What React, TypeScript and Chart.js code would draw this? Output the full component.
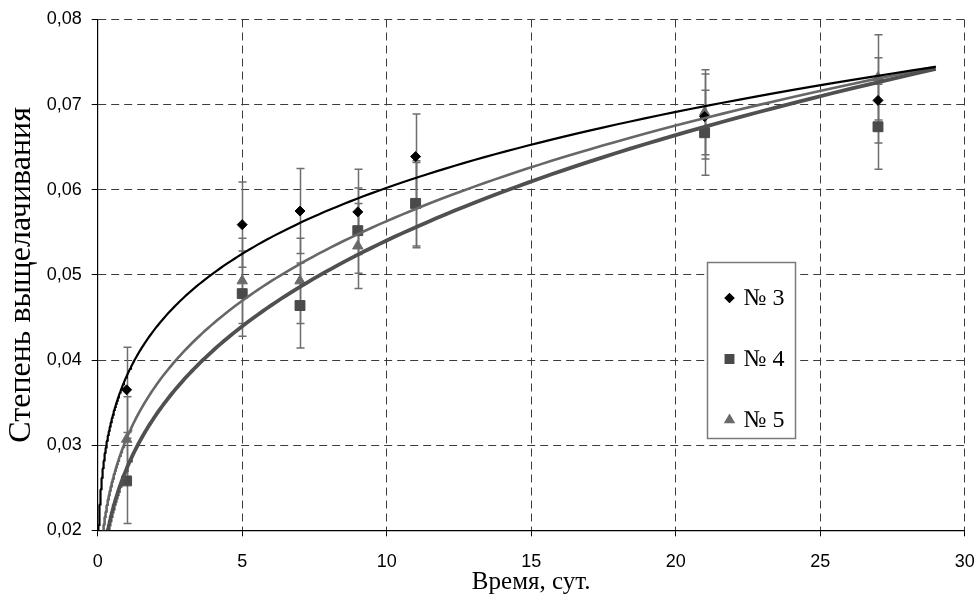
import React, { useEffect, useRef } from "react";
import { Chart, registerables } from "chart.js";
import { drawPoint } from "chart.js/helpers";

Chart.register(...registerables);

// ---- data ----
const days = [1, 5, 7, 9, 11, 21, 27];
const sample3 = [0.0365, 0.0559, 0.0575, 0.0574, 0.0639, 0.0686, 0.0705];
const sample4 = [0.0258, 0.0478, 0.0464, 0.0552, 0.0584, 0.0667, 0.0674];
const sample5 = [0.0307, 0.0493, 0.0493, 0.0534, 0.0582, 0.0691, 0.0732];
const errors3 = [0.005, 0.005, 0.005, 0.005, 0.005, 0.005, 0.005];
const errors4 = [0.005, 0.005, 0.005, 0.005, 0.005, 0.005, 0.005];
const errors5 = [0.005, 0.005, 0.005, 0.005, 0.005, 0.005, 0.005];
const seriesLabels = ["№ 3", "№ 4", "№ 5"];
const xTicks = [0, 5, 10, 15, 20, 25, 30];
const yTicks = [0.02, 0.03, 0.04, 0.05, 0.06, 0.07, 0.08];
const trendStart = 0.01;
const trendEnd = 29;
const xTitle = "Время, сут.";
const yTitle = "Степень выщелачивания";

// power trend line (least squares on ln-ln, like a spreadsheet power trendline)
function powerFit(xs: number[], ys: number[]) {
  const lx = xs.map(Math.log);
  const ly = ys.map(Math.log);
  const n = xs.length;
  const mx = lx.reduce((a, b) => a + b, 0) / n;
  const my = ly.reduce((a, b) => a + b, 0) / n;
  let sxy = 0;
  let sxx = 0;
  for (let i = 0; i < n; i++) {
    sxy += (lx[i] - mx) * (ly[i] - my);
    sxx += (lx[i] - mx) * (lx[i] - mx);
  }
  const p = sxy / sxx;
  const c = Math.exp(my - p * mx);
  return { c, p };
}

function trendPoints(xs: number[], ys: number[]) {
  const { c, p } = powerFit(xs, ys);
  const pts: { x: number; y: number }[] = [];
  const N = 300;
  for (let i = 0; i < N; i++) {
    const x = trendStart * Math.pow(trendEnd / trendStart, i / (N - 1));
    pts.push({ x, y: c * Math.pow(x, p) });
  }
  return pts;
}

const toPoints = (ys: number[]) => days.map((d, i) => ({ x: d, y: ys[i] }));

const styles = [
  { marker: "rectRot", radius: 5, color: "#000000", line: "#000000", lw: 2.2 },
  { marker: "rect", radius: 7, color: "#4a4a4a", line: "#505050", lw: 3.8 },
  { marker: "triangle", radius: 6, color: "#6a6a6a", line: "#676767", lw: 2.6 },
];

const errorBarPlugin = {
  id: "errorBars",
  beforeDatasetsDraw(chart: any) {
    const { ctx } = chart;
    const xs = chart.scales.x;
    const ys = chart.scales.y;
    chart.data.datasets.forEach((ds: any) => {
      if (!ds.errors) return;
      ctx.save();
      ctx.strokeStyle = "#6e6e6e";
      ctx.lineWidth = 1.5;
      ds.data.forEach((pt: any, j: number) => {
        const px = Math.round(xs.getPixelForValue(pt.x)) + 0.5;
        const top = ys.getPixelForValue(pt.y + ds.errors[j]);
        const bot = ys.getPixelForValue(pt.y - ds.errors[j]);
        ctx.beginPath();
        ctx.moveTo(px, top);
        ctx.lineTo(px, bot);
        ctx.moveTo(px - 4, top);
        ctx.lineTo(px + 4, top);
        ctx.moveTo(px - 4, bot);
        ctx.lineTo(px + 4, bot);
        ctx.stroke();
      });
      ctx.restore();
    });
  },
};

const legendPlugin = {
  id: "boxLegend",
  afterDraw(chart: any) {
    const { ctx } = chart;
    const left = 707.5;
    const top = 262.5;
    const w = 88;
    const h = 176;
    ctx.save();
    ctx.fillStyle = "#ffffff";
    ctx.fillRect(left, top, w, h);
    ctx.strokeStyle = "#7a7a7a";
    ctx.lineWidth = 1.5;
    ctx.strokeRect(left, top, w, h);
    const rows = [298, 359, 420];
    ctx.font = '24px "Liberation Serif"';
    ctx.textBaseline = "middle";
    ctx.textAlign = "left";
    seriesLabels.forEach((lab, i) => {
      const st = styles[i];
      ctx.fillStyle = st.color;
      ctx.strokeStyle = st.color;
      drawPoint(ctx, { pointStyle: st.marker, radius: st.radius * 0.85, borderWidth: 1, rotation: 0 } as any, left + 22, rows[i]);
      ctx.fillStyle = "#000";
      ctx.fillText(lab, left + 36, rows[i] + 1);
    });
    ctx.restore();
  },
};

export default function App() {
  const ref = useRef<HTMLCanvasElement>(null);
  useEffect(() => {
    const canvas = ref.current!;
    const samples = [sample3, sample4, sample5];
    const errs = [errors3, errors4, errors5];
    const trendSets = samples.map((s, i) => ({
      label: seriesLabels[i] + " trend",
      data: trendPoints(days, s),
      showLine: true,
      pointRadius: 0,
      borderColor: styles[i].line,
      borderWidth: styles[i].lw,
      backgroundColor: styles[i].line,
      tension: 0,
      order: i,
      clip: 0,
    }));
    const scatterSets = samples.map((s, i) => ({
      label: seriesLabels[i],
      data: toPoints(s),
      errors: errs[i],
      pointStyle: styles[i].marker,
      pointRadius: styles[i].radius,
      pointBackgroundColor: styles[i].color,
      pointBorderColor: styles[i].color,
      pointBorderWidth: 1,
      showLine: false,
      order: 10 + i,
    }));
    const tickFont = { family: '"Liberation Sans", Arial', size: 18 };
    const chart = new Chart(canvas, {
      type: "scatter",
      data: { datasets: [...trendSets, ...scatterSets] as any },
      options: {
        animation: false,
        responsive: false,
        devicePixelRatio: 1,
        layout: { padding: { top: 19.5, right: 12.3, left: 0, bottom: 0 } },
        plugins: { legend: { display: false }, tooltip: { enabled: false } },
        scales: {
          x: {
            type: "linear",
            min: 0,
            max: 30,
            afterBuildTicks: (s: any) => {
              s.ticks = xTicks.map((v) => ({ value: v }));
            },
            afterFit: (s: any) => {
              s.height = 66.7;
              s.paddingLeft = 0;
              s.paddingRight = 0;
            },
            ticks: { font: tickFont, color: "#000", padding: 15, maxRotation: 0 },
            grid: { color: "#3c3c3c", lineWidth: 1, tickColor: "#000", tickLength: 6, tickWidth: 1 },
            border: { color: "#000", width: 1.2, dash: [8, 5] },
            title: {
              display: true,
              text: xTitle,
              color: "#000",
              font: { family: '"Liberation Serif", "Times New Roman"', size: 25, lineHeight: 1 },
              padding: { top: 0, bottom: 2 },
            },
          },
          y: {
            type: "linear",
            min: 0.02,
            max: 0.08,
            afterBuildTicks: (s: any) => {
              s.ticks = yTicks.map((v) => ({ value: v }));
            },
            afterFit: (s: any) => {
              s.width = 97.7;
              s.paddingTop = 0;
              s.paddingBottom = 0;
            },
            ticks: {
              font: tickFont,
              color: "#000",
              padding: 10,
              callback: (v: any) => Number(v).toFixed(2).replace(".", ","),
            },
            grid: { color: "#3c3c3c", lineWidth: 1, tickColor: "#000", tickLength: 6, tickWidth: 1 },
            border: { color: "#000", width: 1.2, dash: [8, 5] },
            title: {
              display: true,
              text: yTitle,
              color: "#000",
              font: { family: '"Liberation Serif", "Times New Roman"', size: 32, lineHeight: 1 },
              padding: { top: 6, bottom: 0 },
            },
          },
        },
      },
      plugins: [errorBarPlugin, legendPlugin],
    } as any);
    return () => chart.destroy();
  }, []);
  return (
    <div style={{ position: "absolute", left: 0, top: 0, width: 977, height: 597, background: "#fff" }}>
      <canvas ref={ref} width={977} height={597} style={{ display: "block" }} />
    </div>
  );
}
